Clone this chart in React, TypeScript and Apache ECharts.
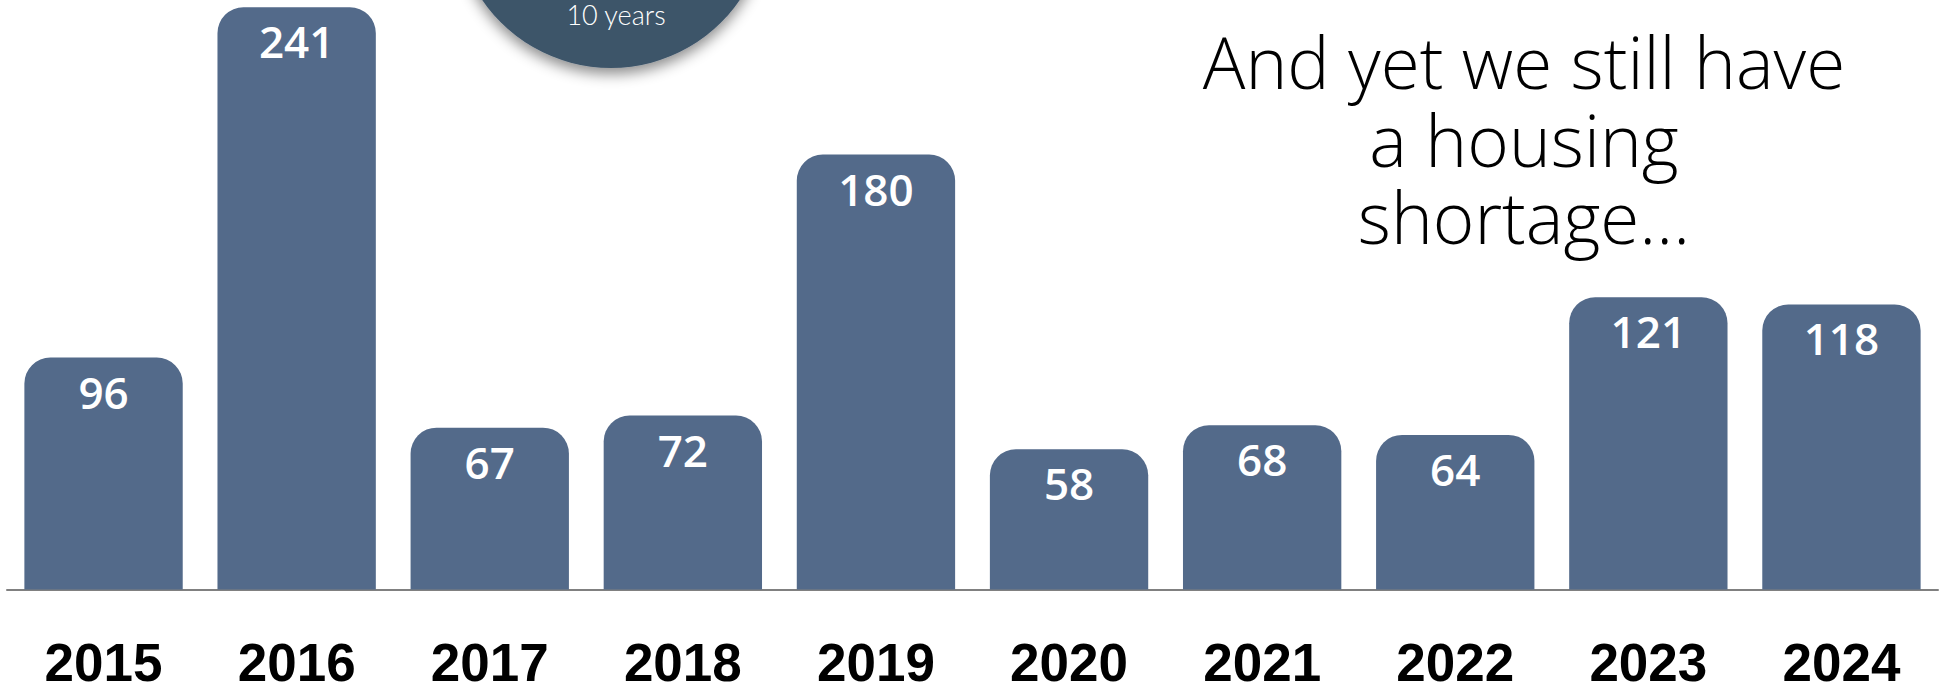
import React, { useEffect, useRef } from "react";
import * as echarts from "echarts";

const years = ["2015", "2016", "2017", "2018", "2019", "2020", "2021", "2022", "2023", "2024"];
const values = [96, 241, 67, 72, 180, 58, 68, 64, 121, 118];
const headlineLines = ["And yet we still have", "a housing", "shortage…"];
const badgeText = "10 years";

export default function App() {
  const ref = useRef<HTMLDivElement>(null);
  useEffect(() => {
    if (!ref.current) return;
    const chart = echarts.init(ref.current, null, { renderer: "svg" });
    const headlineY = [61, 139, 216];
    chart.setOption({
      animation: false,
      backgroundColor: "#ffffff",
      grid: { left: 7, right: 11, top: 0, bottom: 92, containLabel: false },
      xAxis: {
        type: "category",
        data: years,
        axisLine: { show: true, lineStyle: { color: "#808080", width: 2 } },
        axisTick: { show: false },
        axisLabel: {
          margin: 58,
          color: "#000000",
          fontFamily: "Liberation Sans, Arial, sans-serif",
          fontWeight: "bold",
          fontSize: 53,
          lineHeight: 30,
        },
      },
      yAxis: {
        type: "value",
        min: 0,
        max: 244,
        show: false,
        splitLine: { show: false },
      },
      series: [
        {
          type: "bar",
          data: values,
          barWidth: "82%",
          itemStyle: { color: "#536A8A", borderRadius: [26, 26, 0, 0] },
          label: {
            show: true,
            position: "insideTop",
            distance: 12,
            color: "#ffffff",
            fontFamily: "Open Sans, sans-serif",
            fontWeight: 600,
            fontSize: 44,
            lineHeight: 44,
          },
        },
      ],
      graphic: [
        {
          type: "circle",
          shape: { cx: 611, cy: -88, r: 156 },
          style: {
            fill: "#3D5469",
            shadowBlur: 14,
            shadowColor: "rgba(0,0,0,0.45)",
            shadowOffsetY: 6,
          },
          z: 10,
        },
        {
          type: "text",
          x: 616,
          y: 14,
          style: {
            text: badgeText,
            fill: "#ffffff",
            font: "300 27px Lato, sans-serif",
            align: "center",
            verticalAlign: "middle",
          },
          z: 11,
        },
        ...headlineLines.map((line, i) => ({
          type: "text",
          x: 1524,
          y: headlineY[i],
          style: {
            text: line,
            fill: "#000000",
            font: "300 71px 'Open Sans', sans-serif",
            lineHeight: 72,
            align: "center",
            verticalAlign: "middle",
          },
          z: 11,
        })),
      ],
    });
    return () => chart.dispose();
  }, []);
  return (
    <div
      ref={ref}
      style={{ position: "fixed", left: 0, top: 0, width: 1949, height: 689 }}
    />
  );
}
